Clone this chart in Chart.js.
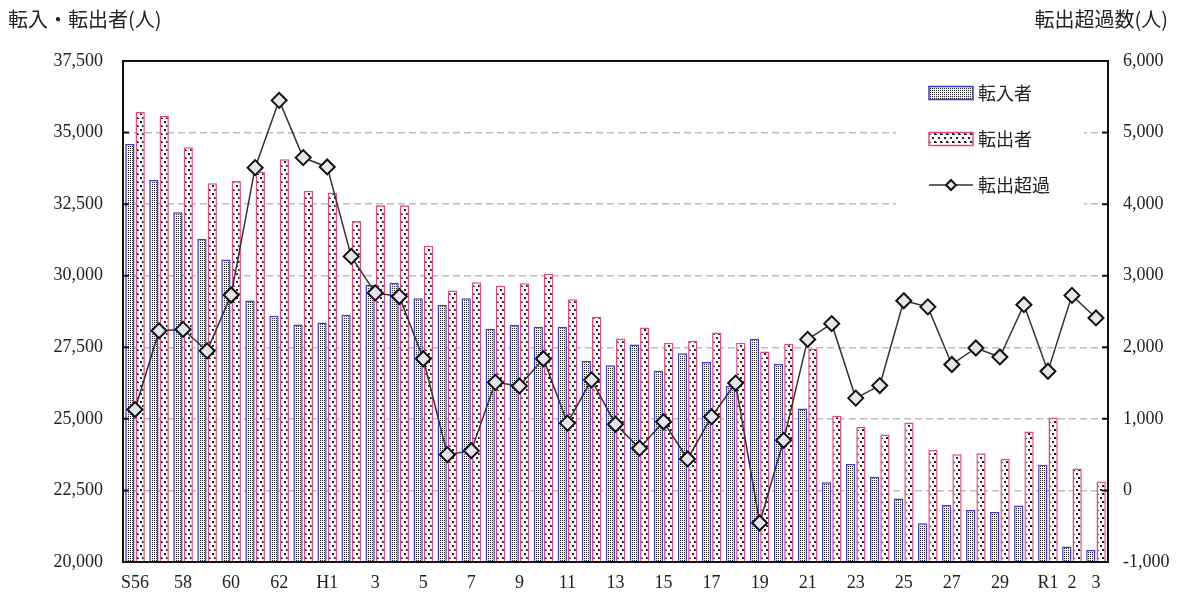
<!DOCTYPE html>
<html lang="ja">
<head>
    <meta charset="UTF-8">
    <title>転入・転出者数の推移</title>
    <script src="https://cdn.jsdelivr.net/npm/chart.js"></script>
    <style>
        body { margin: 0; background: #fff; }
        canvas { display: block; }
    </style>
</head>
<body>
    <canvas id="migChart" width="1184" height="596"></canvas>

    <script>
        // 年次 (S56 〜 R3)
        const years = ['S56','S57','S58','S59','S60','S61','S62','S63',
            'H1','H2','H3','H4','H5','H6','H7','H8','H9','H10','H11','H12','H13','H14','H15',
            'H16','H17','H18','H19','H20','H21','H22','H23','H24','H25','H26','H27','H28','H29','H30',
            'R1','R2','R3'];
        const xTickLabels = ['S56','','58','','60','','62','',
            'H1','','3','','5','','7','','9','','11','','13','','15',
            '','17','','19','','21','','23','','25','','27','','29','',
            'R1','2','3'];

        const inflow = [34600, 33340, 32220, 31280, 30570, 29130, 28600, 28300, 28370, 28640,
            29680, 29750, 29210, 28980, 29210, 28150, 28280, 28220, 28220, 27020,
            26870, 27600, 26680, 27290, 26990, 26150, 27800, 26920, 25360, 22790,
            23420, 22980, 22220, 21350, 21990, 21820, 21750, 21970, 23400, 20540, 20420];
        const outflow = [35720, 35580, 34490, 33230, 33310, 33630, 34070, 32970, 32900, 31910,
            32460, 32460, 31050, 29480, 29770, 29650, 29740, 30070, 29180, 28570,
            27810, 28190, 27660, 27730, 28020, 27660, 27350, 27620, 27460, 25110,
            24720, 24450, 24870, 23910, 23760, 23800, 23610, 24560, 25050, 23270, 22810];
        const netOut = [1130, 2230, 2250, 1950, 2730, 4510, 5450, 4650, 4520, 3270,
            2760, 2710, 1840, 500, 555, 1510, 1460, 1840, 940, 1545,
            925, 590, 960, 440, 1030, 1500, -455, 700, 2110, 2330,
            1290, 1465, 2650, 2565, 1760, 1990, 1865, 2595, 1665, 2725, 2410];

        const leftTicks = [20000, 22500, 25000, 27500, 30000, 32500, 35000, 37500];
        const rightTicks = [-1000, 0, 1000, 2000, 3000, 4000, 5000, 6000];

        const ctx = document.getElementById('migChart').getContext('2d');

        // ドット柄のパターン
        function makePattern(w, h, bg, dots) {
            const c = document.createElement('canvas');
            c.width = w; c.height = h;
            const g = c.getContext('2d');
            g.fillStyle = bg;
            g.fillRect(0, 0, w, h);
            g.fillStyle = '#222';
            dots.forEach(d => g.fillRect(d[0], d[1], d[2], d[2]));
            return ctx.createPattern(c, 'repeat');
        }
        const inPattern = makePattern(2, 2, '#f2f2f2', [[0, 0, 1]]);
        const outPattern = makePattern(6, 8, '#ffffff', [[2, 1, 2], [4, 5, 2], [0, 6, 1]]);

        const fmt = v => v.toLocaleString('en-US');
        const serif = '"Liberation Serif", "DejaVu Serif", serif';
        const jp = '"Noto Sans CJK JP", "Noto Sans", sans-serif';

        // 外枠と内向き目盛り
        const framePlugin = {
            id: 'frame',
            afterDatasetsDraw(chart) {
                const a = chart.chartArea;
                const c = chart.ctx;
                c.save();
                c.strokeStyle = '#111';
                c.lineWidth = 2;
                c.strokeRect(a.left, a.top, a.right - a.left, a.bottom - a.top);
                const y = chart.scales.y;
                leftTicks.forEach(v => {
                    const py = y.getPixelForValue(v);
                    c.beginPath();
                    c.moveTo(a.left, py); c.lineTo(a.left + 6, py);
                    c.moveTo(a.right, py); c.lineTo(a.right - 6, py);
                    c.stroke();
                });
                c.restore();
            }
        };

        // 凡例と軸タイトル
        const legendPlugin = {
            id: 'insideLegend',
            afterDraw(chart) {
                const c = chart.ctx;
                c.save();
                c.fillStyle = '#222';
                c.font = '20px ' + jp;
                c.textBaseline = 'middle';
                c.textAlign = 'left';
                c.fillText('転入・転出者(人)', 8, 19);
                c.textAlign = 'right';
                c.fillText('転出超過数(人)', 1168, 19);

                c.fillStyle = '#fff';
                c.fillRect(896, 72, 188, 140);

                const sx = 929, sw = 44, sh = 13;
                const rows = [93, 139, 185];
                c.lineWidth = 1.5;
                c.fillStyle = inPattern;
                c.fillRect(sx, rows[0] - sh / 2, sw, sh);
                c.strokeStyle = '#3b3bd0';
                c.strokeRect(sx, rows[0] - sh / 2, sw, sh);
                c.fillStyle = outPattern;
                c.fillRect(sx, rows[1] - sh / 2, sw, sh);
                c.strokeStyle = '#e8477f';
                c.strokeRect(sx, rows[1] - sh / 2, sw, sh);

                c.strokeStyle = '#333';
                c.beginPath();
                c.moveTo(sx, rows[2]); c.lineTo(sx + sw, rows[2]);
                c.stroke();
                c.fillStyle = '#e6e4ec';
                c.strokeStyle = '#111';
                c.lineWidth = 2;
                c.beginPath();
                const cx = sx + sw / 2, r = 5;
                c.moveTo(cx, rows[2] - r); c.lineTo(cx + r, rows[2]);
                c.lineTo(cx, rows[2] + r); c.lineTo(cx - r, rows[2]);
                c.closePath();
                c.fill(); c.stroke();

                c.fillStyle = '#222';
                c.font = '18px ' + jp;
                c.textAlign = 'left';
                c.fillText('転入者', 978, rows[0]);
                c.fillText('転出者', 978, rows[1]);
                c.fillText('転出超過', 978, rows[2]);
                c.restore();
            }
        };

        new Chart(ctx, {
            type: 'bar',
            data: {
                labels: years,
                datasets: [
                    {
                        type: 'line',
                        label: '転出超過',
                        data: netOut,
                        yAxisID: 'y2',
                        order: 0,
                        borderColor: '#333',
                        borderWidth: 1.5,
                        tension: 0,
                        pointStyle: 'rectRot',
                        pointRadius: 7.5,
                        pointBackgroundColor: '#e6e4ec',
                        pointBorderColor: '#111',
                        pointBorderWidth: 2
                    },
                    {
                        label: '転入者',
                        data: inflow,
                        yAxisID: 'y',
                        order: 1,
                        backgroundColor: inPattern,
                        borderColor: '#3b3bd0',
                        borderWidth: 1.5,
                        borderSkipped: 'bottom',
                        categoryPercentage: 0.86,
                        barPercentage: 0.9
                    },
                    {
                        label: '転出者',
                        data: outflow,
                        yAxisID: 'y',
                        order: 1,
                        backgroundColor: outPattern,
                        borderColor: '#e8477f',
                        borderWidth: 1.5,
                        borderSkipped: 'bottom',
                        categoryPercentage: 0.86,
                        barPercentage: 0.9
                    }
                ]
            },
            options: {
                responsive: false,
                animation: false,
                layout: { padding: { top: 61, left: 0, right: 0, bottom: 0 } },
                plugins: {
                    legend: { display: false },
                    tooltip: { enabled: false }
                },
                scales: {
                    x: {
                        afterFit(s) { s.height = 34; },
                        grid: { display: false, drawTicks: false },
                        border: { display: false },
                        ticks: {
                            autoSkip: false,
                            maxRotation: 0,
                            padding: 10,
                            color: '#222',
                            font: { family: serif, size: 18 },
                            callback: (v, i) => xTickLabels[i]
                        }
                    },
                    y: {
                        position: 'left',
                        min: 20000,
                        max: 37500,
                        afterFit(s) { s.width = 123; },
                        afterBuildTicks(s) { s.ticks = leftTicks.map(v => ({ value: v })); },
                        grid: { color: '#bdbdbd', lineWidth: 1.5, drawTicks: false },
                        border: { display: false, dash: [7, 4] },
                        ticks: {
                            padding: 20,
                            color: '#222',
                            font: { family: serif, size: 18 },
                            callback: v => fmt(v)
                        }
                    },
                    y2: {
                        position: 'right',
                        min: -1000,
                        max: 6000,
                        afterFit(s) { s.width = 76; },
                        afterBuildTicks(s) { s.ticks = rightTicks.map(v => ({ value: v })); },
                        grid: { display: false, drawTicks: false },
                        border: { display: false },
                        ticks: {
                            padding: 15,
                            color: '#222',
                            font: { family: serif, size: 18 },
                            callback: v => fmt(v)
                        }
                    }
                }
            },
            plugins: [framePlugin, legendPlugin]
        });
    </script>
</body>
</html>
